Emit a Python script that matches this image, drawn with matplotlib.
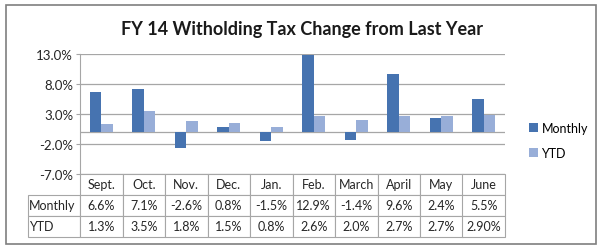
import matplotlib.pyplot as plt
import numpy as np
from matplotlib.table import Table
from matplotlib.patches import Rectangle

plt.rcParams['font.family'] = ['Lato', 'DejaVu Sans']

months = ["Sept.", "Oct.", "Nov.", "Dec.", "Jan.", "Feb.", "March", "April", "May", "June"]
monthly = [6.6, 7.1, -2.6, 0.8, -1.5, 12.9, -1.4, 9.6, 2.4, 5.5]
ytd = [1.3, 3.5, 1.8, 1.5, 0.8, 2.6, 2.0, 2.7, 2.7, 2.9]
monthly_txt = ["6.6%", "7.1%", "-2.6%", "0.8%", "-1.5%", "12.9%", "-1.4%", "9.6%", "2.4%", "5.5%"]
ytd_txt = ["1.3%", "3.5%", "1.8%", "1.5%", "0.8%", "2.6%", "2.0%", "2.7%", "2.7%", "2.90%"]
yticks = [-7, -2, 3, 8, 13]

c_month = "#4673B0"
c_ytd = "#98AED8"
grid_c = "#A6A6A6"

fig = plt.figure(figsize=(6.04, 2.51), dpi=100)
# рамка вокруг всей диаграммы
fig.patches.append(Rectangle((6 / 604, 6 / 251), 590 / 604, 239 / 251, transform=fig.transFigure,
                             fill=False, edgecolor="#7F7F7F", lw=1.2))
fig.text(302 / 604, 1 - 29 / 251, "FY 14 Witholding Tax Change from Last Year",
         ha="center", va="center", fontsize=13, fontweight="bold", color="#1a1a1a")

ax = fig.add_axes([80 / 604, 76 / 251, 425 / 604, 120 / 251])
x = np.arange(len(months))
w = 0.27
ax.bar(x - w / 2, monthly, w, color=c_month, label="Monthly", zorder=3)
ax.bar(x + w / 2, ytd, w, color=c_ytd, label="YTD", zorder=3)
ax.axhline(0, color=grid_c, lw=0.9, zorder=2)

ax.set_xlim(-0.5, len(months) - 0.5)
ax.set_ylim(-7, 13)
ax.set_yticks(yticks)
ax.set_yticklabels(["%.1f%%" % v for v in yticks], fontsize=9.5, color="#262626")
ax.set_xticks([])
ax.grid(axis="y", color=grid_c, lw=0.9, zorder=0)
for s in ["top", "right", "bottom"]:
    ax.spines[s].set_visible(False)
ax.spines["left"].set_color(grid_c)
ax.tick_params(axis="y", length=3, color=grid_c, pad=2)

# таблица данных под графиком
tab = Table(ax, bbox=[0, -63 / 120, 1, 63 / 120])
cw = 1 / len(months)
lw_ = 52 / 425
rh = 1 / 3
tab.add_cell(0, -1, lw_, rh, text="", edgecolor="none")
for j, m in enumerate(months):
    tab.add_cell(0, j, cw, rh, text=m, loc="center")
for i, (lab, vals) in enumerate([("Monthly", monthly_txt), ("YTD", ytd_txt)], start=1):
    tab.add_cell(i, -1, lw_, rh, text=lab, loc="left")
    for j, v in enumerate(vals):
        tab.add_cell(i, j, cw, rh, text=v, loc="center")
tab.auto_set_font_size(False)
tab.set_fontsize(9)
for (r, c), cell in tab.get_celld().items():
    if not (r == 0 and c == -1):
        cell.set_edgecolor(grid_c)
    cell.set_linewidth(0.8)
    cell.get_text().set_color("#262626")
    if c == -1:
        cell.PAD = 0.02
ax.add_table(tab)

ax.legend(loc="center left", bbox_to_anchor=(1.03, 0.28), frameon=False, fontsize=9,
          handlelength=0.7, handleheight=0.7, handletextpad=0.3, labelspacing=1.0)

fig.savefig("out.png", dpi=100)
